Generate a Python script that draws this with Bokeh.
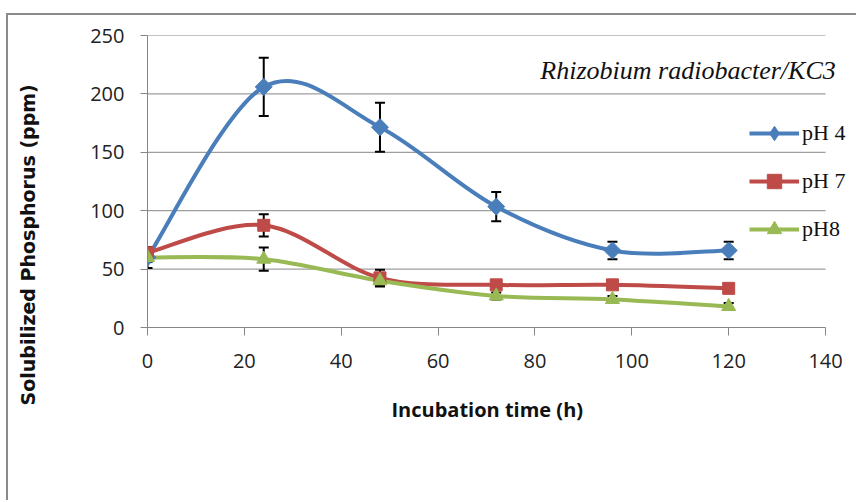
from bokeh.plotting import figure
from bokeh.models import (ColumnDataSource, Whisker, TeeHead, Legend, LegendItem,
                          Label, Range1d, FixedTicker, Title)
from bokeh.embed import file_html
from bokeh.resources import INLINE
import math

# ---- data ----
hours = [0, 24, 48, 72, 96, 120]
ph4 = [60, 206, 171.5, 103.5, 66, 66]
ph4_err = [4, 25, 21, 12.5, 7.5, 7.5]
ph7 = [64, 87.5, 42.5, 36.5, 36.5, 33.5]
ph7_err = [5, 9.5, 7, 2, 2, 2]
ph8 = [60, 58.5, 40, 27, 24, 18]
ph8_err = [9, 10, 5, 3, 3, 3]
series_names = ["pH 4", "pH 7", "pH8"]
x_ticks = [0, 20, 40, 60, 80, 100, 120, 140]
y_ticks = [0, 50, 100, 150, 200, 250]

colors = ["#4A7EBB", "#BE4B48", "#98B954"]
NAN = float("nan")

p = figure(width=850, height=487, output_backend="svg", toolbar_location=None,
           x_range=Range1d(0, 146.8), y_range=Range1d(0, 250),
           min_border_left=139, min_border_right=0, min_border_top=20, min_border_bottom=175)
p.outline_line_color = None
p.background_fill_color = "white"
p.border_fill_color = "white"
p.styles = {"border-left": "2px solid #8a8a8a", "border-top": "2px solid #8a8a8a",
            "margin-left": "6px", "margin-top": "13px"}

# axes
for ax in (p.xaxis[0], p.yaxis[0]):
    ax.axis_line_color = "#868686"
    ax.axis_line_width = 1
    ax.major_tick_line_color = "#868686"
    ax.minor_tick_line_color = None
    ax.major_tick_in = 0
    ax.major_label_text_font = "Open Sans"
    ax.major_label_text_font_size = "20px"
    ax.major_label_text_color = "#222222"

p.xaxis.ticker = FixedTicker(ticks=x_ticks)
p.yaxis.ticker = FixedTicker(ticks=y_ticks)
p.xaxis.bounds = (x_ticks[0], x_ticks[-1])
p.xaxis.major_tick_out = 8
p.yaxis.major_tick_out = 7
p.xaxis.major_label_standoff = 18
p.yaxis.major_label_standoff = 16
# blank axis label used only as spacing between tick labels and the title
p.yaxis.axis_label = " "
p.yaxis.axis_label_text_font_size = "10px"
p.yaxis.axis_label_standoff = 34

p.xgrid.grid_line_color = None
p.ygrid.grid_line_color = None

# horizontal grid lines limited to the axis extent
n = len(y_ticks)
p.segment(x0=[x_ticks[0]] * n, x1=[x_ticks[-1]] * n, y0=y_ticks, y1=y_ticks,
          line_color="#868686", line_width=1, level="underlay")

# axis titles
p.add_layout(Title(text="Solubilized Phosphorus  (ppm)", align="left", offset=-78,
                   vertical_align="middle", standoff=0, text_font="DejaVu Sans",
                   text_font_size="19px", text_font_style="bold", text_color="#111111"), "left")
p.add_layout(Title(text="Incubation time (h)", align="left", offset=244,
                   vertical_align="middle", standoff=48, text_font="Open Sans",
                   text_font_size="20px", text_font_style="bold", text_color="#111111"), "below")


def smooth_segments(xs, ys):
    m = len(xs)
    out = dict(x0=[], y0=[], x1=[], y1=[], cx0=[], cy0=[], cx1=[], cy1=[])
    for i in range(m - 1):
        xm = xs[i - 1] if i > 0 else xs[i]
        ym = ys[i - 1] if i > 0 else ys[i]
        xp = xs[i + 2] if i + 2 < m else xs[i + 1]
        yp = ys[i + 2] if i + 2 < m else ys[i + 1]
        out["x0"].append(xs[i]); out["y0"].append(ys[i])
        out["x1"].append(xs[i + 1]); out["y1"].append(ys[i + 1])
        out["cx0"].append(xs[i] + (xs[i + 1] - xm) / 6)
        out["cy0"].append(ys[i] + (ys[i + 1] - ym) / 6)
        out["cx1"].append(xs[i + 1] - (xp - xs[i]) / 6)
        out["cy1"].append(ys[i + 1] - (yp - ys[i]) / 6)
    return out


all_vals = [ph4, ph7, ph8]
all_errs = [ph4_err, ph7_err, ph8_err]
markers = [("square", 12, math.pi / 4, "diamond"), ("square", 12, 0, "square"),
           ("triangle", 14, 0, "triangle")]

items = []
for vals, errs, col, (mk, sz, ang, lmk), name in zip(all_vals, all_errs, colors, markers, series_names):
    src = ColumnDataSource(dict(x=hours, y=vals,
                                lo=[v - e for v, e in zip(vals, errs)],
                                hi=[v + e for v, e in zip(vals, errs)]))
    w = Whisker(base="x", lower="lo", upper="hi", source=src, line_color="black", line_width=2,
                level="underlay",
                lower_head=TeeHead(size=10, line_color="black", line_width=2),
                upper_head=TeeHead(size=10, line_color="black", line_width=2))
    p.add_layout(w)

for vals, errs, col, (mk, sz, ang, lmk), name in zip(all_vals, all_errs, colors, markers, series_names):
    seg = ColumnDataSource(smooth_segments(hours, vals))
    p.bezier(x0="x0", y0="y0", x1="x1", y1="y1", cx0="cx0", cy0="cy0", cx1="cx1", cy1="cy1",
             source=seg, line_color=col, line_width=4)

for vals, errs, col, (mk, sz, ang, lmk), name in zip(all_vals, all_errs, colors, markers, series_names):
    p.scatter(x=hours, y=vals, marker=mk, size=sz, angle=ang, fill_color=col, line_color=col)
    dl = p.line(x=[NAN], y=[NAN], line_color=col, line_width=4)
    dm = p.scatter(x=[NAN], y=[NAN], marker=lmk, fill_color=col, line_color=col)
    items.append(LegendItem(label=name, renderers=[dl, dm]))

legend = Legend(items=items, location=(602, 80), orientation="vertical",
                glyph_width=50, glyph_height=36, label_height=36, spacing=12,
                label_standoff=3, padding=0, margin=0,
                border_line_color=None, background_fill_alpha=0,
                label_text_font="Liberation Serif", label_text_font_size="22px",
                label_text_color="#111111")
p.add_layout(legend)

p.add_layout(Label(x=142.1, y=220, text="Rhizobium radiobacter/KC3", text_align="right",
                   text_baseline="middle", text_font="Liberation Serif", text_font_style="italic",
                   text_font_size="26px", text_color="#111111"))

open("out.html", "w").write(file_html(p, INLINE))
